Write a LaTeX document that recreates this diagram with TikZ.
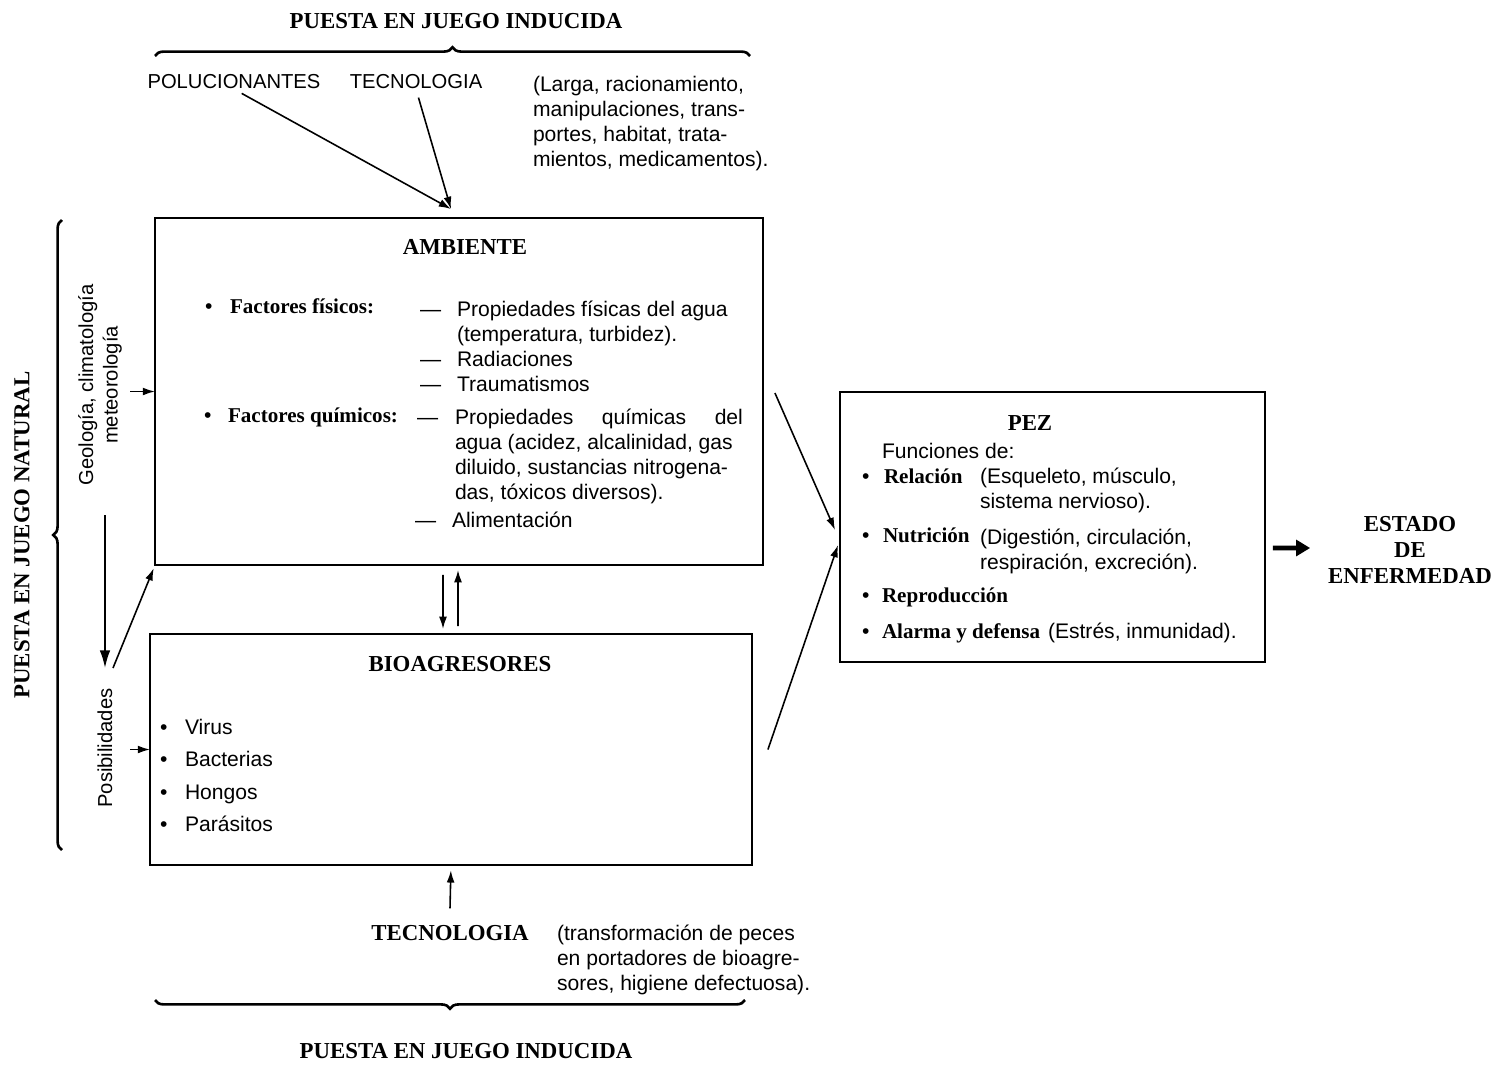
\documentclass[tikz,border=0pt]{standalone}
\usepackage{fontspec}
\setmainfont{Liberation Sans}
\newfontfamily\headfont{Liberation Serif}
\usetikzlibrary{arrows.meta,decorations.pathreplacing}

\begin{document}
\begin{tikzpicture}[
    x=0.02cm,y=-0.02cm,
    every node/.style={inner sep=0pt,outer sep=0pt},
    txt/.style={font=\fontsize{12}{14.2}\selectfont,anchor=base west,align=left},
    caps/.style={font=\fontsize{11.5}{14}\selectfont},
    head/.style={font=\headfont\bfseries\fontsize{13}{14.7}\selectfont,align=center},
    lbl/.style={font=\headfont\bfseries\fontsize{12}{14.2}\selectfont,anchor=base west},
    bul/.style={font=\fontsize{12}{14.2}\selectfont,anchor=base west},
    panel/.style={rectangle,draw,line width=1.2pt},
    arrow/.style={-{Latex[length=7pt,width=4.5pt]},line width=0.9pt},
    bigarrow/.style={-{Triangle[length=8pt,width=9pt]},line width=2.6pt},
    brc/.style={decorate,decoration={brace,amplitude=5pt},line width=1.5pt}
  ]
    \useasboundingbox (0,0) rectangle (1505,1065);

    % induced factors, top
    \node[head] (topttl) at (456,21) {PUESTA EN JUEGO INDUCIDA};
    \draw[brc] (155,56) -- (750,56);
    \node[caps] (polu) at (234,82) {POLUCIONANTES};
    \node[caps] (tec) at (416,82) {TECNOLOGIA};
    % multi-line nodes: base is the last line
    \node[txt] (tecnote) at (533,166) {(Larga, racionamiento,\\manipulaciones, trans-\\portes, habitat, trata-\\mientos, medicamentos).};
    \coordinate (ambin) at (451,209);

    % environment
    \node[panel,minimum width=12.16cm,minimum height=6.94cm] (amb) at (459,391.5) {};
    \node[head] (ambttl) at (465,247) {AMBIENTE};
    \node[bul] (bfis) at (205,313) {\textbullet};
    \node[lbl] (fis) at (230,313) {Factores físicos:};
    \node[bul] (d1) at (420,316) {—};
    \node[txt] (fis1) at (457,341) {Propiedades físicas del agua\\(temperatura, turbidez).};
    \node[bul] (d2) at (420,366) {—};
    \node[txt] (fis2) at (457,366) {Radiaciones};
    \node[bul] (d3) at (420,391) {—};
    \node[txt] (fis3) at (457,391) {Traumatismos};
    \node[bul] (bqui) at (204,422) {\textbullet};
    \node[lbl] (qui) at (228,422) {Factores químicos:};
    \node[bul] (d4) at (417,424) {—};
    \node[txt] (qui1) at (455,499) {\makebox[5.76cm][s]{Propiedades químicas del}\\agua (acidez, alcalinidad, gas\\diluido, sustancias nitrogena-\\das, tóxicos diversos).};
    \node[bul] (d5) at (415,527) {—};
    \node[txt] (qui2) at (452,527) {Alimentación};

    % bioaggressors
    \node[panel,minimum width=12.04cm,minimum height=4.62cm] (bio) at (451,749.5) {};
    \node[head] (biottl) at (460,664) {BIOAGRESORES};
    \node[bul] (b1) at (160,734) {\textbullet};
    \node[txt] (vir) at (185,734) {Virus};
    \node[bul] (b2) at (160,766) {\textbullet};
    \node[txt] (bac) at (185,766) {Bacterias};
    \node[bul] (b3) at (160,799) {\textbullet};
    \node[txt] (hon) at (185,799) {Hongos};
    \node[bul] (b4) at (160,831) {\textbullet};
    \node[txt] (par) at (185,831) {Parásitos};

    % natural factors, left
    \draw[brc] (62,850) -- (62,220);
    \node[head,rotate=90] (natttl) at (22,535) {PUESTA EN JUEGO NATURAL};
    \node[caps,rotate=90,align=center] (geo) at (100,385) {Geología, climatología\\meteorología};
    \node[caps,rotate=90] (posib) at (105,748) {Posibilidades};
    \coordinate (geodown) at (105,515);
    \coordinate (posup) at (105,668);
    \coordinate (posfork) at (113,668);

    % fish
    \node[panel,minimum width=8.5cm,minimum height=5.4cm] (pez) at (1052.5,527) {};
    \node[head] (pezttl) at (1030,423) {PEZ};
    \node[txt] (func) at (882,458) {Funciones de:};
    \node[bul] (p1) at (862,483) {\textbullet};
    \node[lbl] (rel) at (884,483) {Relación};
    \node[txt] (rel1) at (980,508) {(Esqueleto, músculo,\\sistema nervioso).};
    \node[bul] (p2) at (862,542) {\textbullet};
    \node[lbl] (nut) at (883,542) {Nutrición};
    \node[txt] (nut1) at (980,569) {(Digestión, circulación,\\respiración, excreción).};
    \node[bul] (p3) at (862,602) {\textbullet};
    \node[lbl] (rep) at (882,602) {Reproducción};
    \node[bul] (p4) at (862,638) {\textbullet};
    \node[lbl] (ala) at (882,638) {Alarma y defensa};
    \node[txt] (ala1) at (1048,638) {(Estrés, inmunidad).};

    \node[head] (estado) at (1410,550) {ESTADO\\DE\\ENFERMEDAD};

    % induced factors, bottom
    \node[head] (tecbot) at (450,933) {TECNOLOGIA};
    \node[txt] (tecbotnote) at (557,990) {(transformación de peces\\en portadores de bioagre-\\sores, higiene defectuosa).};
    \draw[brc] (745,1000) -- (155,1000);
    \node[head] (botttl) at (466,1051) {PUESTA EN JUEGO INDUCIDA};

    % connectors
    \draw[arrow,shorten <=5pt] (polu.south) -- (ambin);
    \draw[arrow,shorten <=5pt] (tec.south) -- (ambin);
    \draw[arrow] ([xshift=-0.5cm]amb.west) -- (amb.west);
    \draw[arrow] ([xshift=-0.4cm]bio.west) -- (bio.west);
    \draw[-{Latex[length=10pt,width=6pt]},line width=1pt] (geodown) -- (posup);
    \draw[arrow,shorten >=2pt] (posfork) -- (amb.south west);
    \draw[arrow] ([xshift=-0.32cm,yshift=-0.2cm]amb.south) -- ([xshift=-0.16cm,yshift=0.1cm]bio.north);
    \draw[arrow] ([xshift=0.14cm,yshift=0.16cm]bio.north) -- ([xshift=-0.02cm,yshift=-0.1cm]amb.south);
    \draw[arrow] ([xshift=0.24cm,yshift=-0.03cm]amb.east) -- ([xshift=-0.1cm,yshift=-0.06cm]pez.west);
    \draw[arrow] ([xshift=0.32cm]bio.east) -- ([xshift=-0.04cm,yshift=-0.36cm]pez.west);
    \draw[bigarrow] ([xshift=0.16cm,yshift=-0.42cm]pez.east) -- ([xshift=-0.36cm,yshift=0.04cm]estado.west);
    \draw[arrow,shorten >=3pt] ([yshift=0.34cm]tecbot.north) -- (bio.south);
\end{tikzpicture}
\end{document}
